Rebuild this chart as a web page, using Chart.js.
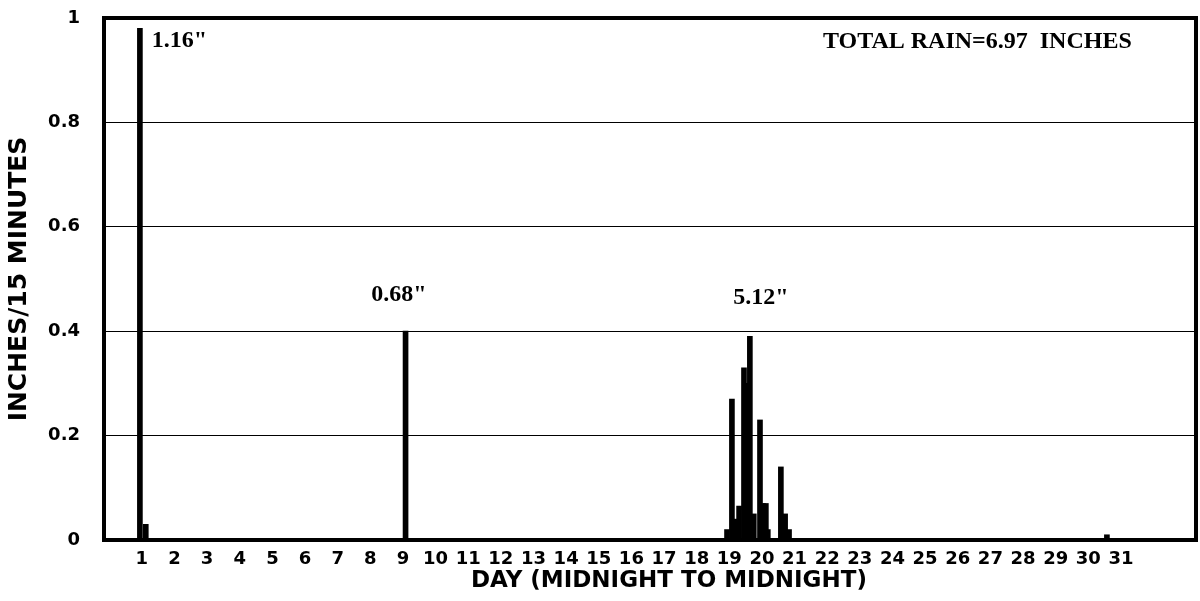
<!DOCTYPE html>
<html>
<head>
<meta charset="utf-8">
<script src="https://cdn.jsdelivr.net/npm/chart.js@4.4.1/dist/chart.umd.min.js"></script>
<style>
    html, body { margin: 0; padding: 0; background: #fff; }
    #contenedor { width: 1200px; height: 601px; }
</style>
</head>
<body>
<div id="contenedor"><canvas id="lluviaChart"></canvas></div>
<script>
// dia del mes (posicion de cada barra) y pulgadas por 15 minutos
const dias = [0.94, 1.12, 9.08, 18.93, 19.08, 19.17, 19.30, 19.45, 19.54, 19.63, 19.75,
              19.94, 20.03, 20.12, 20.18, 20.58, 20.71, 20.83, 30.57]
const pulgadas = [0.98, 0.03, 0.40, 0.02, 0.27, 0.04, 0.065, 0.33, 0.30, 0.39, 0.05,
                  0.23, 0.07, 0.07, 0.02, 0.14, 0.05, 0.02, 0.01]

const etiquetas_dias = [1, 2, 3, 4, 5, 6, 7, 8, 9, 10, 11, 12, 13, 14, 15, 16, 17, 18, 19, 20,
                        21, 22, 23, 24, 25, 26, 27, 28, 29, 30, 31]
const etiquetas_y = ['0', '0.2', '0.4', '0.6', '0.8', '1']

// totales de cada tormenta
const totales = ['1.16"', '0.68"', '5.12"']
const total_texto = 'TOTAL RAIN=6.97  INCHES'
const titulo_x = 'DAY (MIDNIGHT TO MIDNIGHT)'

const fuente_eje = 'DejaVu Sans'
const fuente_notas = 'Liberation Serif'

// donde van los textos (en unidades de los ejes)
const notas = [
    { texto: totales[0], x: 2.15, y: 0.957 },
    { texto: totales[1], x: 8.88, y: 0.469 },
    { texto: totales[2], x: 19.97, y: 0.464 },
    { texto: total_texto, x: 26.6, y: 0.954 },
]

const marco_y_notas = {
    id: 'marco_y_notas',
    afterDraw(chart) {
        const ctx = chart.ctx
        const area = chart.chartArea
        const sx = chart.scales.x
        const sy = chart.scales.y
        ctx.save()
        ctx.strokeStyle = '#000'
        ctx.lineWidth = 4
        ctx.strokeRect(area.left, area.top, area.right - area.left, area.bottom - area.top)
        ctx.fillStyle = '#000'
        ctx.textAlign = 'center'
        ctx.textBaseline = 'middle'
        ctx.font = `bold 24px "${fuente_notas}"`
        for (let nota of notas) {
            ctx.fillText(nota.texto, sx.getPixelForValue(nota.x), sy.getPixelForValue(nota.y))
        }
        // titulo del eje x, un poco a la derecha del centro como en el original
        ctx.font = `bold 23px "${fuente_eje}"`
        ctx.fillText(titulo_x, sx.getPixelForValue(17.15), area.bottom + 41)
        ctx.restore()
    }
}

function dibujar_grafico() {
    const puntos = dias.map((d, i) => ({ x: d, y: pulgadas[i] }))
    new Chart(lluviaChart, {
        type: 'bar',
        data: {
            datasets: [{
                data: puntos,
                backgroundColor: '#000',
                borderWidth: 0,
                barThickness: 5,
            }]
        },
        options: {
            responsive: true,
            maintainAspectRatio: false,
            animation: false,
            layout: { autoPadding: false, padding: { top: 18, right: 4, left: 0, bottom: 0 } },
            plugins: { legend: { display: false }, tooltip: { enabled: false } },
            scales: {
                x: {
                    type: 'linear',
                    offset: false,
                    min: -0.16,
                    max: 33.3,
                    afterBuildTicks: (escala) => {
                        escala.ticks = etiquetas_dias.map(v => ({ value: v }))
                    },
                    afterFit: (escala) => { escala.height = 61 },
                    grid: { display: false, drawTicks: false },
                    border: { display: false },
                    ticks: {
                        autoSkip: false,
                        maxRotation: 0,
                        padding: 9,
                        color: '#000',
                        font: { family: fuente_eje, weight: 'bold', size: 18 },
                        callback: (v) => String(v),
                    },
                },
                y: {
                    min: 0,
                    max: 1,
                    afterFit: (escala) => {
                        escala.width = 104
                        escala.paddingTop = 0
                        escala.paddingBottom = 0
                    },
                    grid: { color: '#000', lineWidth: 1, drawTicks: false },
                    border: { display: false },
                    ticks: {
                        stepSize: 0.2,
                        padding: 24,
                        color: '#000',
                        font: { family: fuente_eje, weight: 'bold', size: 18 },
                        callback: (v, i) => etiquetas_y[i],
                    },
                    title: {
                        display: true,
                        text: 'INCHES/15 MINUTES',
                        color: '#000',
                        font: { family: fuente_eje, weight: 'bold', size: 25 },
                        padding: { top: 4, bottom: 0 },
                    },
                },
            },
        },
        plugins: [marco_y_notas],
    })
}

dibujar_grafico()
</script>
</body>
</html>
